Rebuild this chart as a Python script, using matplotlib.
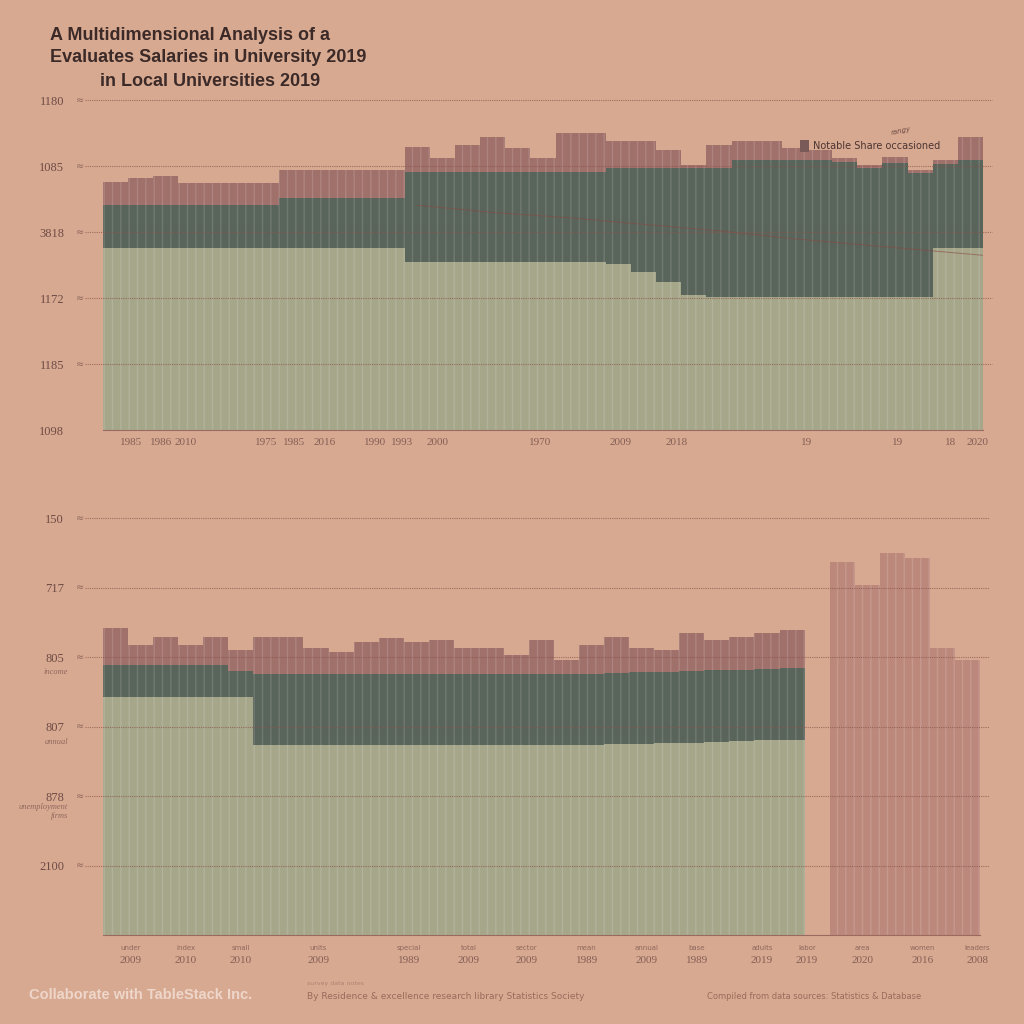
import numpy as np
import matplotlib
matplotlib.use('Agg')
import matplotlib.pyplot as plt

plt.rcParams['hatch.linewidth'] = 1.0

# ---- data ----
# top panel, 35 bars
top_green = [276, 276, 276, 276, 276, 276, 276, 276, 276, 276, 276, 276,
             255, 255, 255, 255, 255, 255, 255, 255, 252, 240, 225, 205,
             202, 202, 202, 202, 202, 202, 202, 202, 202, 276, 276]
top_dark = [341, 341, 341, 341, 341, 341, 341, 352, 352, 352, 352, 352,
            391, 391, 391, 391, 391, 391, 391, 391, 397, 397, 397, 397,
            397, 409, 409, 409, 409, 407, 397, 405, 390, 404, 409]
top_total = [376, 382, 386, 374, 374, 374, 374, 394, 394, 394, 394, 394,
             429, 412, 432, 444, 427, 412, 450, 450, 439, 439, 424, 402,
             432, 439, 439, 427, 424, 412, 402, 414, 394, 409, 444]
top_trend_x = [12, 15, 18, 21, 24, 27, 30, 34.5]
top_trend = [341, 330, 322, 312, 302, 290, 280, 265]
top_yticks = [0, 100, 200, 300, 400, 500]
top_ylabels = ['1098', '1185', '1172', '3818', '1085', '1180']
top_xpos = [0.6, 1.8, 2.8, 6.0, 7.1, 8.3, 10.3, 11.4, 12.8, 16.9, 20.1, 22.3, 27.5, 31.1, 33.2, 34.3]
top_xlabels = ['1985', '1986', '2010', '1975', '1985', '2016', '1990', '1993', '2000',
               '1970', '2009', '2018', '19', '19', '18', '2020']

# bottom panel: 28 stacked bars, one gap, 6 single bars
bot_green = [342, 342, 342, 342, 342, 342, 273, 273, 273, 273, 273, 273, 273, 273,
             273, 273, 273, 273, 273, 273, 275, 275, 277, 277, 278, 279, 280, 281]
bot_dark = [388, 388, 388, 388, 388, 380, 376, 376, 375, 375, 375, 375, 375, 375,
            375, 375, 375, 375, 376, 376, 377, 378, 379, 380, 381, 382, 383, 384]
bot_total = [442, 417, 429, 417, 429, 410, 429, 429, 413, 407, 422, 427, 422, 424,
             413, 413, 403, 424, 396, 417, 429, 413, 410, 435, 424, 429, 435, 439]
bot_tall_pos = [29, 30, 31, 32, 33, 34]
bot_tall = [537, 504, 550, 542, 413, 396]
bot_yticks = [100, 200, 300, 400, 500, 600]
bot_ylabels = ['2100', '878', '807', '805', '717', '150']
bot_ysub = {100: '', 200: 'unemployment\nfirms', 300: 'annual', 400: 'income', 500: '', 600: ''}
bot_xpos = [0.6, 2.8, 5.0, 8.1, 11.7, 14.1, 16.4, 18.8, 21.2, 23.2, 25.8, 27.6, 29.8, 32.2, 34.4]
bot_xtop = ['under', 'index', 'small', 'units', 'special', 'total', 'sector', 'mean',
            'annual', 'base', 'adults', 'labor', 'area', 'women', 'leaders']
bot_xlabels = ['2009', '2010', '2010', '2009', '1989', '2009', '2009', '1989',
               '2009', '1989', '2019', '2019', '2020', '2016', '2008']

# ---- style ----
BG = '#d8a991'
GREEN = '#a5a68a'
DARK = '#59645a'
MAUVE = '#a0706a'
ROSE = '#bd887c'
GRID = '#8c564c'
TXT = '#6e4c46'
STRIPE = (1, 1, 1, 0.14)

fig = plt.figure(figsize=(10.24, 10.24), dpi=100, facecolor=BG)


def style_axes(ax, ymax, yticks, ylabels):
    ax.set_facecolor(BG)
    ax.set_xlim(-0.5, 34.5)
    ax.set_ylim(0, ymax)
    for s in ['top', 'right', 'left']:
        ax.spines[s].set_visible(False)
    ax.spines['bottom'].set_color('#9a6a60')
    ax.spines['bottom'].set_linewidth(0.8)
    ax.set_yticks(yticks)
    ax.set_yticklabels(ylabels, family='Liberation Serif', fontsize=9, color=TXT)
    ax.tick_params(axis='y', length=0, pad=28)
    ax.tick_params(axis='x', length=0, pad=6)
    tr = ax.get_yaxis_transform()
    for t in yticks:
        if t == 0:
            continue
        ax.plot([-0.02, 1.01], [t, t], transform=tr, color=GRID, lw=0.8,
                ls=(0, (1, 1)), alpha=0.75, clip_on=False, zorder=5)
        ax.text(-0.022, t, '≈', transform=tr, fontsize=7, color=TXT,
                ha='right', va='center', alpha=0.7)


def stacked(ax, green, dark, total):
    x = np.arange(len(green))
    g = np.array(green)
    d = np.array(dark)
    t = np.array(total)
    kw = dict(width=1.0, edgecolor=STRIPE, linewidth=0, hatch='||', zorder=2)
    ax.bar(x, g, color=GREEN, **kw)
    ax.bar(x, d - g, bottom=g, color=DARK, **kw)
    ax.bar(x, t - d, bottom=d, color=MAUVE, **kw)


# ---- top panel ----
ax1 = fig.add_axes([0.1006, 0.580, 0.8594, 0.322])
style_axes(ax1, 500, top_yticks, top_ylabels)
stacked(ax1, top_green, top_dark, top_total)
ax1.plot(top_trend_x, top_trend, color='#8a4a44', lw=0.7, alpha=0.6, zorder=4)
ax1.set_xticks(top_xpos)
ax1.set_xticklabels(top_xlabels, family='Liberation Serif', fontsize=8, color=TXT, alpha=0.8)

# ---- bottom panel ----
ax2 = fig.add_axes([0.1006, 0.0869, 0.8564, 0.4072])
style_axes(ax2, 600, bot_yticks, bot_ylabels)
stacked(ax2, bot_green, bot_dark, bot_total)
ax2.bar(bot_tall_pos, bot_tall, width=1.0, color=ROSE, edgecolor=STRIPE,
        linewidth=0, hatch='||', zorder=2)
for t, s in bot_ysub.items():
    if s:
        ax2.text(-0.04, t - 22, s, transform=ax2.get_yaxis_transform(), fontsize=6,
                 color=TXT, alpha=0.7, ha='right', va='center', style='italic',
                 family='Liberation Serif')
ax2.set_xticks(bot_xpos)
ax2.set_xticklabels(bot_xlabels, family='Liberation Serif', fontsize=8, color=TXT, alpha=0.8)
ax2.tick_params(axis='x', pad=15)
for xp, s in zip(bot_xpos, bot_xtop):
    ax2.text(xp, -0.03, s, transform=ax2.get_xaxis_transform(), fontsize=5,
             color=TXT, alpha=0.7, ha='center', va='center')

# ---- titles and legend ----
title_kw = dict(family='Liberation Sans', weight='bold', fontsize=13, color='#3b2a28')
fig.text(0.049, 0.961, 'A Multidimensional Analysis of a', **title_kw)
fig.text(0.049, 0.939, 'Evaluates Salaries in University 2019', **title_kw)
fig.text(0.098, 0.916, 'in Local Universities 2019', **title_kw)

fig.patches.append(plt.Rectangle((0.781, 0.852), 0.009, 0.011, transform=fig.transFigure,
                                 facecolor='#7a5a58', edgecolor='none'))
fig.text(0.794, 0.857, 'Notable Share occasioned', fontsize=7, color='#4a3532', va='center')
fig.text(0.87, 0.868, 'rangy', fontsize=5, color='#6a4a44', style='italic', rotation=12)

# ---- footer ----
fig.text(0.028, 0.024, 'Collaborate with TableStack Inc.', family='Liberation Sans',
         weight='bold', fontsize=10.5, color='#eed6ca')
fig.text(0.3, 0.024, 'By Residence & excellence research library Statistics Society',
         fontsize=6.5, color='#9a6a5c')
fig.text(0.3, 0.038, 'survey data notes', fontsize=4.5, color='#b08070')
fig.text(0.69, 0.024, 'Compiled from data sources: Statistics & Database',
         fontsize=6, color='#9a6a5c')

fig.savefig('out.png', dpi=100, facecolor=BG)
